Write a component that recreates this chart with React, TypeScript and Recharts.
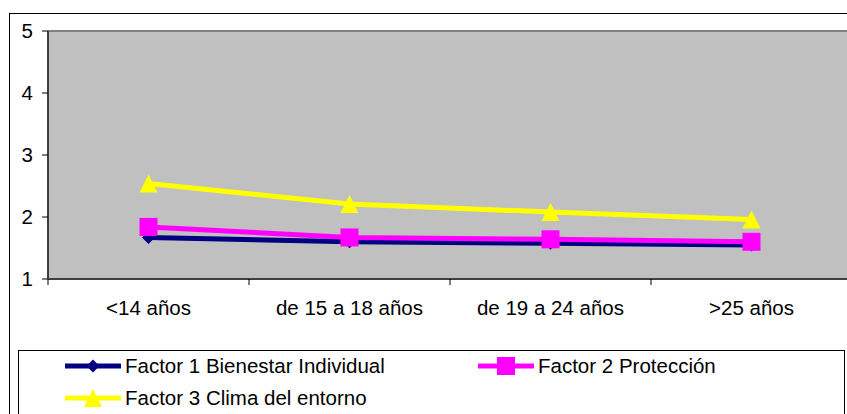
import React from 'react';
import { LineChart, Line, XAxis, YAxis, CartesianGrid, ReferenceLine } from 'recharts';

const categories = ['<14 años', 'de 15 a 18 años', 'de 19 a 24 años', '>25 años'];
const factor1 = [1.67, 1.60, 1.575, 1.55];
const factor2 = [1.84, 1.67, 1.64, 1.60];
const factor3 = [2.54, 2.21, 2.08, 1.96];
const yTicks = [1, 2, 3, 4, 5];

const seriesDefs = [
  { key: 'f1', name: 'Factor 1 Bienestar Individual', color: '#000080', shape: 'diamond' },
  { key: 'f2', name: 'Factor 2 Protección', color: '#FF00FF', shape: 'square' },
  { key: 'f3', name: 'Factor 3 Clima del entorno', color: '#FFFF00', shape: 'triangle' },
];

const data = categories.map((c, i) => ({ cat: c, f1: factor1[i], f2: factor2[i], f3: factor3[i] }));

const FONT = '"Liberation Sans", Arial, sans-serif';
const FS = 20.5;

// The original plot area is cropped on the right by the picture edge.
const CHART_W = 839;
const CHART_H = 330;
const MARGIN = { top: 23, right: 0, bottom: 19, left: 0 };
const Y_W = 40;
const FULL_PLOT_W = 804; // full (uncropped) plot width
const HALF = FULL_PLOT_W / categories.length / 2;
const VISIBLE_PLOT_W = CHART_W - MARGIN.left - MARGIN.right - Y_W;
const PAD_RIGHT = VISIBLE_PLOT_W - (FULL_PLOT_W - HALF);

function markerShape(shape: string, cx: number, cy: number, color: string, key?: any) {
  if (shape === 'diamond') {
    const s = 6.5;
    return <path key={key} d={`M${cx},${cy - s}L${cx + s},${cy}L${cx},${cy + s}L${cx - s},${cy}Z`} fill={color} />;
  }
  if (shape === 'square') {
    const s = 9;
    return <rect key={key} x={cx - s} y={cy - s} width={2 * s} height={2 * s} fill={color} />;
  }
  const s = 9;
  return <path key={key} d={`M${cx},${cy - s}L${cx + s},${cy + s}L${cx - s},${cy + s}Z`} fill={color} />;
}

const makeDot = (shape: string, color: string) => (props: any) => {
  const { cx, cy, index } = props;
  if (cx == null || cy == null) return <g key={`d-${index}`} />;
  return markerShape(shape, cx, cy, color, `d-${shape}-${index}`);
};

const XTick = (props: any) => {
  const { x, y, payload } = props;
  return (
    <g>
      <line x1={x - HALF} y1={y} x2={x - HALF} y2={y + 6} stroke="#000" strokeWidth={1} />
      <text x={x} y={y + 36} textAnchor="middle" fontFamily={FONT} fontSize={FS} fill="#000">
        {payload.value}
      </text>
    </g>
  );
};

const LegendBox = () => (
  <div
    style={{
      position: 'absolute',
      left: 18,
      top: 350,
      width: 827,
      height: 120,
      border: '1px solid #000',
      background: '#fff',
      boxSizing: 'border-box',
    }}
  >
    {seriesDefs.map((s, i) => {
      const col = i % 2;
      const row = Math.floor(i / 2);
      return (
        <div
          key={s.key}
          style={{
            position: 'absolute',
            left: col === 0 ? 46 : 459,
            top: 4 + row * 32,
            height: 22,
            display: 'flex',
            alignItems: 'center',
            whiteSpace: 'nowrap',
          }}
        >
          <svg width={56} height={22} style={{ display: 'block' }}>
            <line x1={0} y1={11} x2={56} y2={11} stroke={s.color} strokeWidth={5} strokeLinecap="round" />
            {markerShape(s.shape, 28, 11, s.color)}
          </svg>
          <span style={{ fontFamily: FONT, fontSize: FS, color: '#000', marginLeft: 4, lineHeight: '22px' }}>
            {s.name}
          </span>
        </div>
      );
    })}
  </div>
);

export default function App() {
  return (
    <div
      style={{
        position: 'fixed',
        left: 0,
        top: 0,
        width: 847,
        height: 414,
        overflow: 'hidden',
        background: '#fff',
      }}
    >
      <div
        style={{
          position: 'absolute',
          left: 9,
          top: 13,
          right: 0,
          bottom: 0,
          borderTop: '1px solid #000',
          borderLeft: '1px solid #000',
        }}
      />
      <div style={{ position: 'absolute', left: 8, top: 8, width: CHART_W, height: CHART_H }}>
        <LineChart width={CHART_W} height={CHART_H} data={data} margin={MARGIN}>
          <CartesianGrid fill="#C0C0C0" horizontal={false} vertical={false} />
          <XAxis
            dataKey="cat"
            scale="point"
            padding={{ left: HALF, right: PAD_RIGHT }}
            height={40}
            axisLine={{ stroke: '#404040', strokeWidth: 2 }}
            tickLine={false}
            tickSize={0}
            tickMargin={0}
            tick={<XTick />}
            interval={0}
          />
          <YAxis
            type="number"
            domain={[1, 5]}
            ticks={yTicks}
            width={Y_W}
            axisLine={{ stroke: '#404040', strokeWidth: 2 }}
            tickLine={{ stroke: '#000', strokeWidth: 1 }}
            tickSize={6}
            tickMargin={9}
            tick={{ fontFamily: FONT, fontSize: FS, fill: '#000' }}
          />
          <ReferenceLine y={5} stroke="#808080" strokeWidth={2} />
          {seriesDefs.map((s) => (
            <Line
              key={s.key}
              dataKey={s.key}
              name={s.name}
              stroke={s.color}
              strokeWidth={5}
              dot={makeDot(s.shape, s.color)}
              activeDot={false}
              isAnimationActive={false}
              type="linear"
            />
          ))}
        </LineChart>
      </div>
      <LegendBox />
    </div>
  );
}
